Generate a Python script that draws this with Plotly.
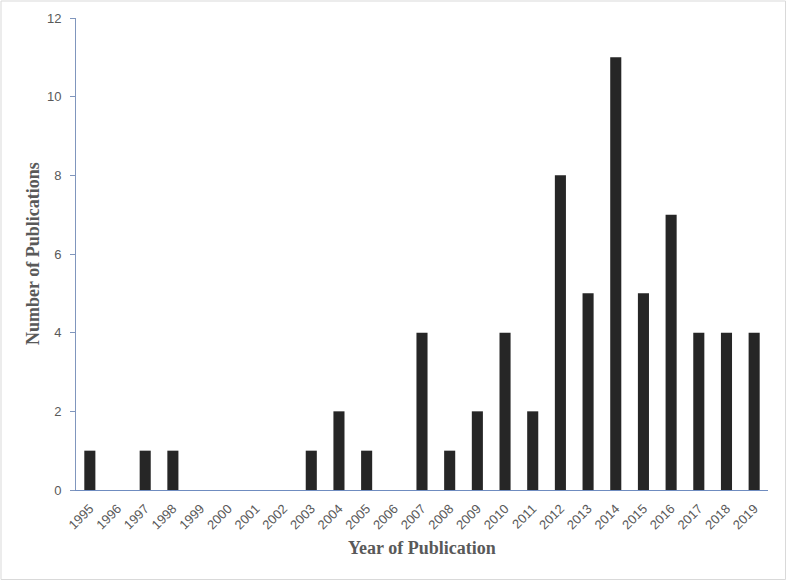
import plotly.graph_objects as go

years = [str(y) for y in range(1995, 2020)]
counts = [1, 0, 1, 1, 0, 0, 0, 0, 1, 2, 1, 0, 4, 1, 2, 4, 2, 8, 5, 11, 5, 7, 4, 4, 4]
y_ticks = [0, 2, 4, 6, 8, 10, 12]
x_title = "Year of Publication"
y_title = "Number of Publications"

W, H = 787, 581
L, R, T, B = 76, 19, 18, 91
pw, ph = W - L - R, H - T - B

fig = go.Figure(go.Bar(x=years, y=counts, marker=dict(color="#262626", line=dict(width=0)), width=0.4))

axis_col = "#8096bd"
tick_font = dict(family="Liberation Sans, Arial", size=13, color="#595959")
title_font = dict(family="Liberation Serif, Times New Roman", size=18, color="#595959")
fig.update_layout(
    width=W, height=H,
    margin=dict(l=L, r=R, t=T, b=B, autoexpand=False),
    paper_bgcolor="white", plot_bgcolor="white",
    showlegend=False,
    xaxis=dict(
        type="category", tickangle=-45, showgrid=False, ticks="",
        showline=True, linecolor="#6f8cc0", linewidth=1, automargin=False,
        tickfont=tick_font, ticklabelstandoff=5,
    ),
    yaxis=dict(
        range=[0, 12], tickvals=y_ticks, showgrid=False, zeroline=False,
        ticks="outside", ticklen=5, tickcolor=axis_col, automargin=False,
        showline=True, linecolor=axis_col, linewidth=1,
        tickfont=tick_font, ticklabelstandoff=6,
    ),
    annotations=[
        dict(text="<b>" + x_title + "</b>", xref="paper", yref="paper",
             x=(422 - L) / pw, y=(T + ph - 548) / ph, showarrow=False,
             xanchor="center", yanchor="middle", font=title_font),
        dict(text="<b>" + y_title + "</b>", xref="paper", yref="paper",
             x=(33 - L) / pw, y=(T + ph - 254) / ph, showarrow=False, textangle=-90,
             xanchor="center", yanchor="middle", font=title_font),
    ],
    shapes=[dict(type="rect", xref="paper", yref="paper",
                 x0=(1 - L) / pw, x1=(W - 1.5 - L) / pw,
                 y0=(T + ph - (H - 1.5)) / ph, y1=(T + ph - 1) / ph,
                 line=dict(color="#d9d9d9", width=1), layer="below")],
)

fig.write_html("out.html", config={"displayModeBar": False},
               post_script="document.body.style.margin='0';document.body.style.padding='0';")
